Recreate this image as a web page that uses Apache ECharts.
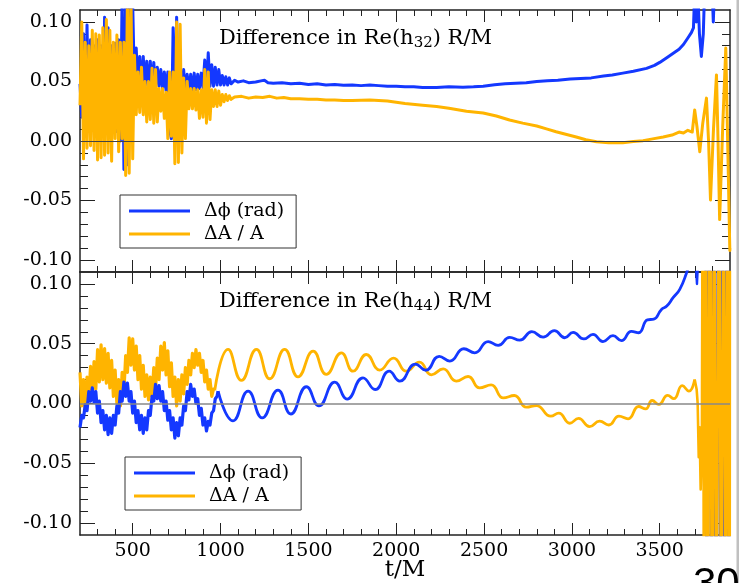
<!DOCTYPE html>
<html><head><meta charset="utf-8">
<script src="https://cdn.jsdelivr.net/npm/echarts@6/dist/echarts.min.js"></script>
<style>html,body{margin:0;padding:0;background:#fff}#c{width:740px;height:583px}</style>
</head><body><div id="c"></div>
<script>
// ---------- axis values ----------
const X_MIN = 200, X_MAX = 3900, Y_MIN = -0.11, Y_MAX = 0.11;
const xMajorTicks = [500, 1000, 1500, 2000, 2500, 3000, 3500];
const xMinorTicks = [300,400,500,600,700,800,900,1000,1100,1200,1300,1400,1500,1600,1700,1800,1900,2000,2100,2200,2300,2400,2500,2600,2700,2800,2900,3000,3100,3200,3300,3400,3500,3600,3700,3800];
const yMajorTicks = [-0.10, -0.05, 0, 0.05, 0.10];
const yMinorTicks = [-0.10,-0.09,-0.08,-0.07,-0.06,-0.05,-0.04,-0.03,-0.02,-0.01,0,0.01,0.02,0.03,0.04,0.05,0.06,0.07,0.08,0.09,0.10];
const seriesNames = ['Δϕ (rad)', 'ΔA / A'];
const panelTitles = ['Difference in Re(h{s|32}) R/M', 'Difference in Re(h{s|44}) R/M'];
const xTitle = 't/M';
const pageNumber = '30';

// ---------- top panel: Re(h32) ----------
const h32Phase = [
[200,0.048],[210,0.020],[220,0.090],[230,0.015],[240,0.0975],[250,0.012],[260,0.085],[270,0.010],[280,0.080],[290,0.005],[300,0.085],[310,0.010],[320,0.080],[330,0.008],[340,0.104],[350,0.010],[360,0.095],[370,0.012],[380,0.080],[390,0.010],[400,0.082],[410,0.008],[420,0.085],[430,0.000],[440,0.125],[450,-0.024],[460,0.125],[470,-0.020],[480,0.125],[490,0.020],[500,0.115],[510,0.045],[520,0.078],[530,0.046],[540,0.071],[550,0.045],[560,0.071],[570,0.046],[580,0.067],[590,0.045],[600,0.067],[610,0.046],[620,0.066],[630,0.045],[640,0.062],[650,0.046],[660,0.060],[670,0.044],[680,0.058],[690,0.042],[700,0.058],[710,0.010],[720,0.002],[730,0.095],[740,0.016],[750,0.104],[760,0.030],[770,0.062],[780,0.040],[790,0.060],[800,0.042],[810,0.056],[820,0.043],[830,0.056],[840,0.042],[850,0.057],[860,0.043],[870,0.056],[880,0.044],[890,0.057],[900,0.045],[910,0.068],[920,0.045],[930,0.074],[940,0.046],[950,0.064],[960,0.046],[970,0.062],[980,0.047],[990,0.060],[1000,0.047],[1010,0.055],[1020,0.047],[1030,0.054],[1040,0.047],[1050,0.053],[1060,0.048],
[1080,0.051],[1100,0.0495],[1130,0.0505],[1160,0.049],[1200,0.0495],[1230,0.0505],[1250,0.051],[1270,0.049],[1300,0.0485],[1350,0.049],[1400,0.048],[1450,0.0485],[1500,0.0475],[1550,0.048],[1600,0.047],[1650,0.0475],[1700,0.0468],[1750,0.047],[1800,0.0465],[1850,0.047],[1900,0.0465],[1950,0.046],[2000,0.046],[2050,0.0455],[2100,0.0455],[2150,0.045],[2230,0.045],[2300,0.0455],[2380,0.0452],[2440,0.0455],[2495,0.046],[2560,0.0472],[2620,0.048],[2680,0.0485],[2740,0.049],[2800,0.050],[2860,0.0505],[2920,0.051],[2990,0.052],[3050,0.0525],[3110,0.053],[3180,0.0546],[3230,0.0555],[3290,0.057],[3350,0.0585],[3425,0.061],[3470,0.0635],[3500,0.066],[3540,0.070],[3575,0.0735],[3610,0.077],[3635,0.081],[3660,0.0865],[3680,0.091],[3692,0.095],[3700,0.13],[3708,0.10],[3716,0.13],[3726,0.09],[3737,0.071],[3748,0.09],[3756,0.13],[3770,0.14],[3785,0.12],[3795,0.14],[3805,0.10],[3812,0.13],[3820,0.2],[3840,0.3],[3900,0.3]
];
const h32Amp = [
[200,0.030],[210,0.100],[220,-0.015],[230,0.083],[240,-0.006],[250,0.080],[260,-0.004],[270,0.093],[280,-0.008],[290,0.090],[300,-0.016],[310,0.089],[320,-0.014],[330,0.095],[340,-0.012],[350,0.102],[360,-0.010],[370,0.093],[380,-0.017],[390,0.083],[400,0.002],[410,0.089],[420,-0.009],[430,0.083],[440,0.002],[450,0.083],[460,-0.029],[470,0.125],[480,-0.027],[490,0.125],[500,-0.015],[510,0.072],[520,0.022],[530,0.058],[540,0.024],[550,0.062],[560,0.022],[570,0.050],[580,0.016],[590,0.050],[600,0.018],[610,0.061],[620,0.015],[630,0.060],[640,0.016],[650,0.044],[660,0.025],[670,0.044],[680,0.019],[690,0.041],[700,0.002],[710,0.058],[720,0.004],[730,0.058],[740,-0.019],[750,0.100],[760,-0.018],[770,0.098],[780,-0.010],[790,0.053],[800,0.002],[810,0.050],[820,0.027],[830,0.044],[840,0.027],[850,0.044],[860,0.026],[870,0.043],[880,0.019],[890,0.043],[900,0.020],[910,0.060],[920,0.015],[930,0.058],[940,0.018],[950,0.043],[960,0.029],[970,0.043],[980,0.029],[990,0.042],[1000,0.030],[1010,0.039],[1020,0.033],[1030,0.039],[1040,0.034],[1050,0.038],[1060,0.035],
[1080,0.037],[1120,0.0375],[1160,0.036],[1200,0.037],[1240,0.0365],[1280,0.0375],[1320,0.036],[1360,0.0365],[1400,0.0355],[1450,0.0355],[1500,0.035],[1550,0.035],[1600,0.0345],[1650,0.0345],[1700,0.034],[1750,0.034],[1850,0.0345],[1950,0.0335],[2050,0.0315],[2150,0.030],[2230,0.029],[2300,0.0275],[2400,0.025],[2495,0.0235],[2570,0.021],[2645,0.0176],[2720,0.015],[2800,0.0126],[2860,0.010],[2910,0.0078],[2970,0.0055],[3025,0.0034],[3080,0.001],[3140,-0.0006],[3210,-0.0014],[3290,-0.0014],[3350,-0.0005],[3405,0.0003],[3460,0.0018],[3520,0.0034],[3570,0.005],[3610,0.0075],[3635,0.0067],[3660,0.009],[3685,0.0075],[3695,0.009],
[3699,0.026],[3712,0.012],[3728,-0.009],[3745,0.015],[3766,0.036],[3778,0.0],[3789,-0.0496],[3806,0.01],[3823,0.0555],[3832,0.0],[3841,-0.066],[3858,0.01],[3876,0.078],[3888,-0.01],[3899,-0.092],[3900,-0.09]
];

// ---------- bottom panel: Re(h44) ----------
const h44PhaseNoisy = [
[200,-0.020],[210,-0.010],[220,-0.012],[230,-0.001],[240,-0.006],[250,0.010],[260,0.002],[270,0.013],[280,0.001],[290,0.010],[300,-0.008],[310,0.002],[320,-0.016],[330,-0.006],[340,-0.022],[350,-0.010],[360,-0.026],[370,-0.012],[380,-0.025],[390,-0.010],[400,-0.018],[410,-0.002],[420,-0.008],[430,0.010],[440,0.002],[450,0.018],[460,0.006],[470,0.017],[480,0.002],[490,0.010],[500,-0.008],[510,0.002],[520,-0.016],[530,-0.006],[540,-0.022],[550,-0.010],[560,-0.025],[570,-0.012],[580,-0.022],[590,-0.006],[600,-0.010],[610,0.006],[620,0.002],[630,0.016],[640,0.004],[650,0.015],[660,0.002],[670,0.010],[680,-0.006],[690,0.002],[700,-0.014],[710,-0.006],[720,-0.022],[730,-0.012],[740,-0.029],[750,-0.016],[760,-0.027],[770,-0.012],[780,-0.018],[790,-0.002],[800,-0.006],[810,0.010],[820,0.003],[830,0.016],[840,0.006],[850,0.012],[860,0.000],[870,0.004],[880,-0.010],[890,-0.004],[900,-0.018],[910,-0.012],[920,-0.023],[930,-0.015],[940,-0.018],[950,-0.008],[960,-0.006],[970,0.004],[980,0.006],[986,0.0103]
];
const h44PhaseWave = [
[986,0.0103],[1071,-0.0145],[1157,0.0103],[1237,-0.012],[1327,0.0112],[1400,-0.0088],[1489,0.014],[1560,-0.002],[1650,0.0179],[1721,0.0037],[1811,0.0215],[1880,0.0117],[1960,0.027],[2020,0.0187],[2110,0.033],[2168,0.0278],[2245,0.0395],[2305,0.0355],[2385,0.0458],[2447,0.0424],[2523,0.0518],[2580,0.0486],[2646,0.0553],[2703,0.053],[2772,0.0601],[2836,0.0555],[2900,0.061],[2959,0.055],[3007,0.0595],[3068,0.054],[3120,0.0578],[3177,0.0518],[3234,0.0567],[3282,0.0526],[3339,0.0603],[3380,0.0592],[3430,0.070],[3466,0.0705],[3510,0.0787],[3540,0.0815],[3576,0.0885],[3614,0.0955],[3652,0.109],[3670,0.118]
];
const h44PhaseTail = [
[3670,0.118],[3700,0.13],[3712,0.10],[3722,0.13],[3740,0.2],[3758,0.3],[3768,-0.3],[3780,0.3],[3795,-0.3],[3806,0.3],[3820,-0.3],[3834,0.3],[3846,-0.3],[3858,0.3],[3870,-0.3],[3882,0.3],[3894,-0.3],[3900,0.2]
];
const h44AmpNoisy = [
[200,0.026],[210,-0.002],[220,0.020],[230,-0.006],[240,0.022],[250,0.004],[260,0.031],[270,0.008],[280,0.035],[290,0.012],[300,0.045],[310,0.018],[320,0.049],[330,0.020],[340,0.046],[350,0.017],[360,0.042],[370,0.013],[380,0.036],[390,0.006],[400,0.028],[410,0.000],[420,0.020],[430,-0.002],[440,0.026],[450,0.010],[460,0.040],[470,0.026],[480,0.055],[490,0.032],[500,0.054],[510,0.028],[520,0.048],[530,0.020],[540,0.040],[550,0.012],[560,0.032],[570,0.006],[580,0.024],[590,0.003],[600,0.022],[610,0.006],[620,0.030],[630,0.012],[640,0.038],[650,0.020],[660,0.048],[670,0.028],[680,0.051],[690,0.024],[700,0.044],[710,0.014],[720,0.034],[730,0.006],[740,0.022],[750,-0.002],[760,0.020],[770,0.002],[780,0.024],[790,0.008],[800,0.030],[810,0.016],[820,0.036],[830,0.024],[840,0.042],[850,0.030],[860,0.045],[870,0.032],[880,0.042],[890,0.026],[900,0.036],[910,0.018],[920,0.028],[930,0.012],[940,0.020],[950,0.006],[960,0.012],[967,0.011]
];
const h44AmpWave = [
[967,0.011],[1043,0.0452],[1119,0.0193],[1204,0.0452],[1280,0.0207],[1365,0.0452],[1441,0.0223],[1527,0.0438],[1602,0.0243],[1688,0.0424],[1754,0.027],[1830,0.041],[1906,0.028],[1985,0.038],[2058,0.027],[2132,0.0346],[2200,0.024],[2267,0.029],[2342,0.0187],[2409,0.0226],[2475,0.0131],[2540,0.0155],[2610,0.0047],[2672,0.0067],[2741,-0.0031],[2798,-0.0017],[2880,-0.0106],[2925,-0.008],[2988,-0.0165],[3038,-0.0125],[3101,-0.0193],[3158,-0.0148],[3210,-0.018],[3268,-0.0106],[3320,-0.0128],[3380,-0.0025],[3420,-0.0045],[3457,0.0025],[3495,-0.0008],[3545,0.0068],[3580,0.004],[3628,0.015],[3666,0.0103],[3699,0.020]
];
const h44AmpTail = [
[3699,0.020],[3710,0.012],[3716,0.0],[3722,-0.045],[3727,-0.02],[3733,-0.072],[3740,-0.03],[3746,0.3],[3752,-0.3],[3762,0.3],[3774,-0.3],[3786,0.3],[3798,-0.3],[3810,0.3],[3822,-0.3],[3838,0.3],[3850,-0.3],[3864,0.3],[3876,-0.3],[3888,0.3],[3898,-0.3],[3900,0.3]
];

// ---------- styling / building ----------
const FONT = "'DejaVu Serif', serif";
const BLUE = '#1438ff', ORANGE = '#ffb400', FRAME = '#222';

function xAx(grid, pos, ticks, len, labels, line) {
  return { type: 'value', gridIndex: grid, position: pos, min: X_MIN, max: X_MAX,
    axisLine: { show: line, onZero: false, lineStyle: { color: FRAME, width: 1.5 } },
    axisTick: { show: true, inside: true, length: len, customValues: ticks, lineStyle: { color: FRAME, width: 1 } },
    axisLabel: { show: labels, customValues: ticks, margin: 7, color: '#000', fontFamily: FONT, fontSize: 19,
      formatter: v => String(Math.round(v)) },
    splitLine: { show: false }, minorTick: { show: false } };
}
function yAx(grid, pos, ticks, len, labels, line) {
  return { type: 'value', gridIndex: grid, position: pos, min: Y_MIN, max: Y_MAX,
    axisLine: { show: line, onZero: false, lineStyle: { color: FRAME, width: 1.5 } },
    axisTick: { show: true, inside: true, length: len, customValues: ticks, lineStyle: { color: FRAME, width: 1 } },
    axisLabel: { show: labels, customValues: ticks, margin: 8, color: '#000', fontFamily: FONT, fontSize: 19,
      formatter: v => v.toFixed(2) },
    splitLine: { show: false }, minorTick: { show: false } };
}
const xAxes = [], yAxes = [];
[0, 1].forEach(g => {
  xAxes.push(xAx(g, 'bottom', xMajorTicks, 12, g === 1, true));
  xAxes.push(xAx(g, 'bottom', xMinorTicks, 6, false, false));
  xAxes.push(xAx(g, 'top', xMajorTicks, 12, false, true));
  xAxes.push(xAx(g, 'top', xMinorTicks, 6, false, false));
  yAxes.push(yAx(g, 'left', yMajorTicks, 15, true, true));
  yAxes.push(yAx(g, 'left', yMinorTicks, 8, false, false));
  yAxes.push(yAx(g, 'right', yMajorTicks, 15, false, true));
  yAxes.push(yAx(g, 'right', yMinorTicks, 8, false, false));
});

function line(name, data, g, color, width, smooth) {
  return { type: 'line', name: name, data: data, xAxisIndex: g * 4, yAxisIndex: g * 4,
    color: color, symbol: 'none', showSymbol: false, smooth: smooth, clip: true, silent: true,
    lineStyle: { color: color, width: width, join: 'round' } };
}
function zero(g, color, width) {
  return { type: 'line', name: 'zero', data: [], xAxisIndex: g * 4, yAxisIndex: g * 4, silent: true,
    markLine: { silent: true, symbol: 'none', label: { show: false }, animation: false,
      lineStyle: { color: color, width: width, type: 'solid' }, data: [{ yAxis: 0 }] } };
}
function legend(left, top) {
  return { orient: 'vertical', left: left, top: top, padding: [6, 12, 4, 9], itemWidth: 61, itemHeight: 3, itemGap: 3,
    icon: 'rect', selectedMode: false, borderColor: '#333', borderWidth: 1, borderRadius: 0, backgroundColor: '#fff',
    itemStyle: { borderWidth: 0 },
    textStyle: { fontFamily: FONT, fontSize: 19, color: '#000', lineHeight: 20, padding: [0, 0, 0, 9] },
    data: seriesNames };
}
function title(text, top) {
  return { text: text, left: 219, top: top, padding: 0,
    textStyle: { fontFamily: FONT, fontSize: 21, fontWeight: 'normal', color: '#000', lineHeight: 24,
      rich: { s: { fontFamily: FONT, fontSize: 15, lineHeight: 15, padding: [7, 0, 0, 0], verticalAlign: 'bottom', color: '#000' } } } };
}

const option = {
  animation: false,
  backgroundColor: '#fff',
  title: [title(panelTitles[0], 27), title(panelTitles[1], 290)],
  grid: [
    { left: 80, top: 10, width: 650, height: 262, containLabel: false, outerBoundsMode: 'none' },
    { left: 80, top: 272, width: 650, height: 263, containLabel: false, outerBoundsMode: 'none' }
  ],
  xAxis: xAxes,
  yAxis: yAxes,
  legend: [legend(120, 195), legend(125, 457)],
  series: [
    zero(0, '#444', 1),
    line(seriesNames[0], h32Phase, 0, BLUE, 3, false),
    line(seriesNames[1], h32Amp, 0, ORANGE, 3, false),
    zero(1, '#888', 1.5),
    line(seriesNames[1], h44AmpNoisy, 1, ORANGE, 3.2, false),
    line(seriesNames[1], h44AmpWave, 1, ORANGE, 2.8, 0.5),
    line(seriesNames[0], h44PhaseNoisy, 1, BLUE, 3.2, false),
    line(seriesNames[0], h44PhaseWave, 1, BLUE, 2.8, 0.5),
    line(seriesNames[0], h44PhaseTail, 1, BLUE, 2.4, false),
    line(seriesNames[1], h44AmpTail, 1, ORANGE, 2.6, false)
  ],
  graphic: [
    { type: 'rect', shape: { x: 736.5, y: 0, width: 2.5, height: 583 }, style: { fill: '#c0c0c0' }, silent: true },
    { type: 'text', x: 405, y: 570, style: { text: xTitle, font: "23px 'DejaVu Serif', serif", fill: '#000', align: 'center', verticalAlign: 'middle' }, silent: true },
    { type: 'text', x: 693, y: 564, style: { text: pageNumber, font: "42px 'Liberation Sans', Arial, sans-serif", fill: '#000', align: 'left', verticalAlign: 'top' }, silent: true }
  ]
};
const chart = echarts.init(document.getElementById('c'), null, { renderer: 'canvas' });
chart.setOption(option);
</script>
</body></html>
